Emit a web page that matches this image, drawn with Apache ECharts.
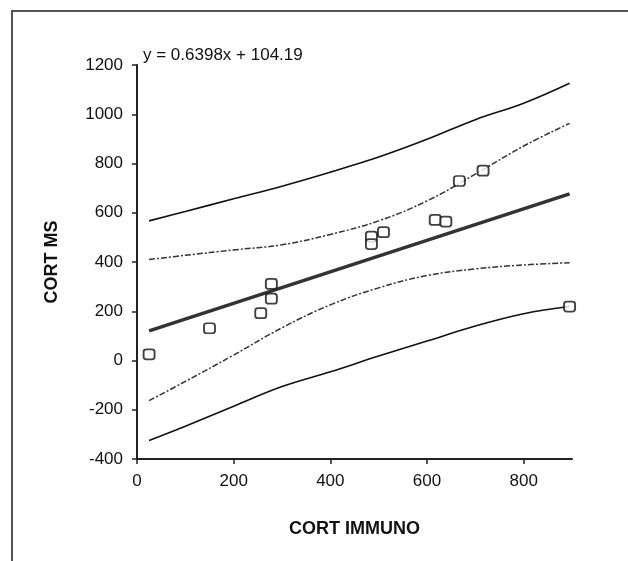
<!DOCTYPE html>
<html>
<head>
<meta charset="utf-8">
<script src="https://cdn.jsdelivr.net/npm/echarts@6/dist/echarts.min.js"></script>
<style>
html,body{margin:0;padding:0;background:#fff;}
#c{width:628px;height:561px;}
</style>
</head>
<body>
<div id="c"></div>
<script>
// Observed points
const scatterX = [25, 150, 256, 278, 278, 485, 485, 510, 617, 639, 667, 716, 895];
const scatterY = [25, 131, 192, 311, 251, 503, 473, 521, 571, 564, 729, 771, 219];
// Trendline endpoints (as drawn)
const trendX = [25, 895];
const trendY = [120, 677];
// Band curves
const bandX      = [25, 100, 200, 300, 400, 500, 600, 700, 800, 895];
const outerUpper = [567, 605, 657, 708, 765, 826, 898, 978, 1045, 1126];
const innerUpper = [410, 427, 449, 470, 512, 567, 648, 757, 871, 963];
const innerLower = [-163, -85, 22, 133, 226, 295, 345, 372, 388, 397];
const outerLower = [-325, -267, -186, -106, -46, 18, 79, 140, 190, 219];
const xTicks = [0, 200, 400, 600, 800];
const equation = 'y = 0.6398x + 104.19';

const zip = (xs, ys) => xs.map((x, i) => [x, ys[i]]);
const font = 'Liberation Sans, Arial, sans-serif';

const chart = echarts.init(document.getElementById('c'), null, {renderer: 'canvas'});
const lineBase = {type: 'line', smooth: 0.4, showSymbol: false, silent: true, z: 2};
chart.setOption({
  animation: false,
  backgroundColor: '#fff',
  grid: {left: 137, right: 56, top: 65, bottom: 102},
  xAxis: {
    type: 'value', min: 0, max: 900, interval: 200,
    name: 'CORT IMMUNO', nameLocation: 'middle', nameGap: 61,
    nameTextStyle: {fontFamily: font, fontSize: 18, fontWeight: 'bold', color: '#111'},
    axisLine: {onZero: false, lineStyle: {color: '#222', width: 2}},
    axisTick: {show: true, length: 5, customValues: xTicks, lineStyle: {color: '#222', width: 1.5}},
    axisLabel: {customValues: xTicks, margin: 14, fontFamily: font, fontSize: 17, color: '#111',
                formatter: v => String(v)},
    splitLine: {show: false}
  },
  yAxis: {
    type: 'value', min: -400, max: 1200, interval: 200,
    name: 'CORT MS', nameLocation: 'middle', nameGap: 76, nameRotate: 90,
    nameTextStyle: {fontFamily: font, fontSize: 18, fontWeight: 'bold', color: '#111'},
    axisLine: {show: true, onZero: false, lineStyle: {color: '#222', width: 2}},
    axisTick: {show: true, length: 5, lineStyle: {color: '#222', width: 1.5}},
    axisLabel: {margin: 14, fontFamily: font, fontSize: 17, color: '#111',
                formatter: v => String(v)},
    splitLine: {show: false}
  },
  graphic: [
    {type: 'line', shape: {x1: 12, y1: 11, x2: 12, y2: 561}, style: {stroke: '#555', lineWidth: 2}},
    {type: 'line', shape: {x1: 11, y1: 11, x2: 628, y2: 11}, style: {stroke: '#555', lineWidth: 2}},
    {type: 'text', left: 143, top: 47, style: {text: equation, font: '17px ' + font, fill: '#111'}}
  ],
  series: [
    Object.assign({}, lineBase, {data: zip(bandX, outerUpper), lineStyle: {color: '#111', width: 1.6}}),
    Object.assign({}, lineBase, {data: zip(bandX, outerLower), lineStyle: {color: '#111', width: 1.6}}),
    Object.assign({}, lineBase, {data: zip(bandX, innerUpper), lineStyle: {color: '#333', width: 1.5, type: [6, 2, 2, 2]}}),
    Object.assign({}, lineBase, {data: zip(bandX, innerLower), lineStyle: {color: '#333', width: 1.5, type: [6, 2, 2, 2]}}),
    {type: 'line', data: zip(trendX, trendY), showSymbol: false, silent: true, z: 3,
     lineStyle: {color: '#333', width: 3.5}},
    {type: 'scatter', data: zip(scatterX, scatterY), symbol: 'roundRect', symbolSize: [11, 10], z: 5,
     itemStyle: {color: '#fff', borderColor: '#111', borderWidth: 1.8}}
  ]
});
</script>
</body>
</html>
